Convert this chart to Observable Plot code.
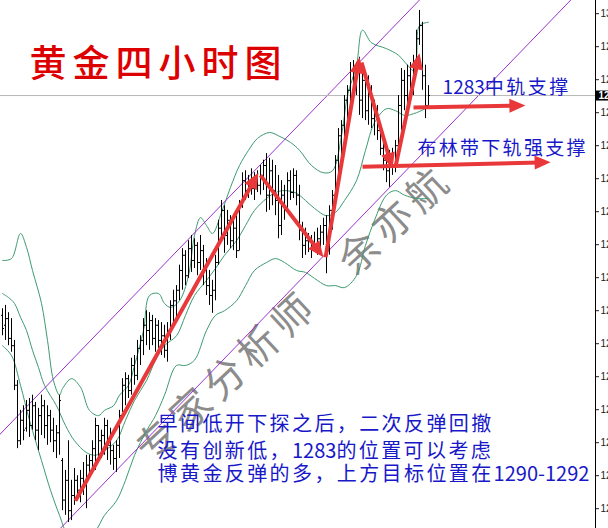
<!DOCTYPE html>
<html><head><meta charset="utf-8">
<script src="https://cdn.jsdelivr.net/npm/d3@7"></script>
<script src="https://cdn.jsdelivr.net/npm/@observablehq/plot@0.6"></script>
<style>
html,body{margin:0;padding:0;background:#fff;overflow:hidden;width:608px;height:528px;}
#chart svg{display:block;overflow:hidden;}
</style></head><body><div id="chart"></div>
<script>
// ---- OHLC data (gold, 4-hour bars) ----
const highs = [1255.3,1255.8,1254.7,1253.8,1250.5,1244.4,1239.9,1240.6,1241.4,1241.7,
1242.2,1241.1,1240.2,1242.2,1241.4,1240.6,1239.9,1238.7,1237.6,1242.2,
1232.6,1230.8,1235.3,1229.3,1231.1,1230.0,1230.8,1232.0,1233.1,1233.1,
1235.3,1238.7,1237.6,1236.9,1238.7,1238.4,1237.2,1234.6,1235.3,1239.9,
1244.7,1245.6,1245.2,1247.8,1248.2,1250.5,1251.2,1253.8,1255.0,1254.7,
1254.3,1253.8,1253.5,1253.2,1252.8,1253.2,1256.5,1258.1,1258.8,1261.9,
1264.4,1264.1,1265.6,1266.4,1265.9,1265.3,1266.4,1264.9,1262.9,1261.1,
1259.6,1263.4,1268.7,1271.7,1270.9,1270.2,1269.4,1268.7,1269.4,1271.7,
1275.9,1276.2,1275.5,1276.5,1275.9,1276.2,1277.0,1277.8,1278.8,1278.1,
1277.8,1277.0,1275.5,1274.7,1274.0,1275.9,1276.2,1276.5,1276.2,1274.0,
1268.4,1267.5,1266.7,1266.4,1266.9,1267.5,1267.9,1269.0,1269.4,1270.9,
1273.2,1278.5,1282.6,1283.8,1287.6,1289.1,1292.6,1292.9,1292.6,1293.4,
1291.7,1291.1,1290.6,1289.1,1286.9,1286.1,1282.6,1280.8,1280.0,1279.3,
1279.6,1280.8,1287.6,1291.7,1291.4,1292.2,1292.6,1293.7,1297.5,1300.5,
1298.7,1292.2,1289.1];
const lows = [1251.2,1250.5,1249.7,1248.7,1242.9,1234.1,1234.6,1235.3,1236.6,1235.8,
1236.9,1235.3,1233.8,1236.1,1235.6,1234.6,1235.0,1233.5,1232.6,1233.1,
1224.7,1224.0,1222.9,1223.2,1225.5,1226.3,1225.9,1227.0,1225.0,1230.0,
1230.5,1230.8,1232.0,1232.6,1233.1,1232.3,1231.6,1230.8,1230.5,1232.6,
1239.6,1240.6,1241.7,1242.2,1243.7,1244.4,1246.7,1248.2,1249.7,1249.0,
1249.7,1248.7,1249.3,1248.2,1247.8,1247.2,1250.5,1252.8,1253.8,1256.5,
1258.1,1258.8,1259.9,1260.8,1261.4,1260.3,1261.1,1258.8,1257.3,1255.8,
1254.6,1256.5,1261.9,1265.6,1263.7,1264.9,1264.4,1264.1,1262.9,1264.1,
1270.5,1271.7,1272.0,1272.5,1271.7,1272.9,1272.5,1273.2,1269.9,1270.2,
1270.9,1269.4,1265.9,1266.4,1268.7,1269.9,1271.7,1272.0,1270.9,1265.6,
1262.9,1263.4,1263.8,1262.9,1264.1,1263.4,1264.4,1264.9,1260.6,1263.4,
1267.2,1270.9,1274.7,1277.8,1280.8,1282.3,1284.6,1286.9,1287.6,1284.6,
1284.1,1283.8,1283.1,1282.6,1281.5,1280.8,1278.5,1276.2,1274.4,1273.7,
1275.5,1275.9,1279.3,1282.3,1285.3,1286.1,1287.2,1287.6,1291.4,1295.2,
1288.4,1284.1,1286.1];
const opens = [1254.3,1252.8,1253.8,1250.8,1249.7,1243.7,1235.3,1238.4,1237.2,1239.9,
1237.6,1240.6,1236.9,1239.1,1240.6,1237.6,1239.1,1236.9,1235.3,1236.5,
1232.3,1226.3,1229.3,1224.7,1227.0,1229.3,1227.8,1229.6,1228.5,1231.6,
1232.3,1234.1,1237.6,1235.3,1236.1,1237.6,1234.6,1233.8,1232.6,1234.6,
1239.1,1243.7,1244.7,1242.9,1246.7,1245.2,1249.3,1250.5,1252.8,1252.0,
1253.5,1250.8,1252.8,1250.5,1251.2,1249.0,1252.0,1255.8,1256.5,1258.1,
1261.1,1263.4,1260.3,1264.4,1262.6,1264.9,1262.3,1264.1,1261.1,1258.8,
1257.3,1258.1,1262.3,1267.5,1270.2,1266.4,1268.7,1265.6,1267.5,1264.1,
1270.9,1274.7,1273.2,1274.4,1273.5,1275.0,1274.0,1275.5,1277.0,1272.5,
1276.2,1273.2,1271.7,1267.9,1272.5,1270.2,1274.7,1272.9,1275.5,1272.5,
1267.2,1264.9,1265.6,1264.4,1265.3,1264.7,1265.9,1266.9,1267.9,1264.1,
1270.2,1272.5,1277.8,1281.5,1283.1,1286.9,1288.4,1291.4,1289.1,1291.7,
1286.9,1289.9,1285.3,1288.7,1284.1,1285.6,1282.3,1279.6,1277.8,1276.2,
1278.1,1277.0,1280.0,1286.1,1289.9,1287.6,1290.6,1289.1,1292.2,1296.2,
1298.2,1290.6,1286.1];
const closes = [1252.3,1253.8,1250.8,1249.7,1243.7,1235.3,1238.4,1236.9,1239.9,1237.6,
1240.6,1236.9,1239.1,1240.6,1237.6,1239.1,1236.9,1235.3,1236.5,1241.4,
1226.3,1229.3,1224.7,1227.0,1229.3,1227.8,1229.6,1228.5,1231.6,1232.3,
1234.1,1237.6,1235.3,1236.1,1237.6,1234.6,1233.8,1232.6,1234.6,1239.1,
1243.7,1244.7,1242.9,1246.7,1245.2,1249.3,1250.5,1252.8,1252.0,1253.5,
1250.8,1252.8,1250.5,1251.2,1249.0,1252.0,1255.8,1256.5,1258.1,1261.1,
1263.4,1260.3,1264.4,1262.6,1264.9,1262.3,1264.1,1261.1,1258.8,1257.3,
1258.1,1262.3,1267.5,1270.2,1266.4,1268.7,1265.6,1267.5,1264.1,1270.9,
1274.7,1273.2,1274.4,1273.5,1275.0,1274.0,1275.5,1277.0,1272.5,1276.2,
1273.2,1271.7,1267.9,1272.5,1270.2,1274.7,1272.9,1275.5,1272.5,1267.2,
1264.9,1265.6,1264.4,1265.3,1264.7,1265.9,1266.9,1267.9,1264.1,1270.2,
1272.5,1277.8,1281.5,1283.1,1286.9,1288.4,1291.4,1289.1,1291.7,1286.9,
1289.9,1285.3,1288.7,1284.1,1285.6,1282.3,1279.6,1277.8,1276.2,1278.1,
1277.0,1280.0,1286.1,1289.9,1287.6,1290.6,1289.1,1292.2,1296.2,1298.2,
1290.6,1286.1,1287.6];

// ---- Bollinger band lines: [bar index, price] ----
const upperBand = [[0,1262.6],[3,1262.9],[6,1266.7],[8,1264.6],[10,1261.1],[13,1256.1],[15,1250.5],[17,1244.4],[19,1242.2],[20,1243.2],[23,1244.7],[26,1243.4],[29,1239.9],[32,1239.1],[34,1239.9],[37,1240.6],[39,1242.2],[42,1243.7],[44,1246.7],[47,1252.0],[49,1257.3],[52,1257.6],[54,1256.1],[56,1255.5],[59,1256.5],[62,1260.3],[64,1266.4],[66,1269.1],[68,1267.9],[70,1266.7],[73,1269.9],[76,1273.7],[79,1277.0],[82,1279.3],[85,1281.1],[89,1282.0],[92,1281.5],[96,1280.5],[99,1279.3],[103,1277.0],[107,1275.9],[110,1276.2],[113,1281.5],[115,1287.6],[118,1292.2],[120,1297.5],[123,1295.6],[128,1294.7],[132,1293.7],[135,1292.2],[137,1291.4],[138,1293.4],[139,1298.2],[142,1298.7]];
const middleBand = [[0,1257.6],[2,1257.0],[4,1256.1],[6,1254.0],[8,1252.0],[10,1249.0],[12,1246.4],[14,1243.7],[18,1240.6],[21,1237.6],[24,1235.3],[28,1233.5],[31,1233.1],[34,1233.8],[38,1235.3],[41,1238.4],[44,1241.4],[48,1244.4],[51,1247.5],[54,1249.7],[58,1251.2],[61,1254.3],[64,1257.3],[68,1259.6],[71,1261.4],[74,1263.4],[78,1265.6],[81,1267.9],[84,1270.2],[88,1272.0],[91,1272.9],[94,1273.2],[98,1272.8],[101,1271.7],[104,1270.5],[108,1269.4],[111,1269.9],[114,1271.7],[118,1274.7],[121,1279.3],[124,1283.5],[128,1285.6],[131,1285.3],[134,1284.6],[138,1285.0],[142,1285.9]];
const lowerBand = [[0,1249.7],[3,1248.2],[6,1243.7],[9,1238.4],[13,1232.3],[16,1227.8],[19,1224.0],[22,1220.9],[26,1220.2],[31,1221.7],[34,1224.0],[38,1226.2],[41,1229.3],[44,1233.1],[48,1236.8],[51,1239.1],[54,1242.2],[58,1246.7],[61,1246.7],[64,1247.5],[68,1252.0],[71,1254.3],[74,1255.0],[78,1256.5],[81,1258.8],[84,1261.1],[88,1262.3],[91,1262.9],[94,1262.3],[98,1261.1],[101,1260.8],[104,1259.9],[108,1258.8],[111,1258.8],[114,1258.5],[118,1260.3],[121,1264.9],[124,1268.7],[128,1272.5],[131,1273.2],[134,1272.5],[138,1272.0],[142,1272.0]];

// ---- channel lines (two parallel trend lines) ----
const channelUpper = [[-1,1236.2],[145,1304.9]];
const channelLower = [[15,1220.0],[195,1304.7]];

// ---- red annotation arrows: start [bar, price] -> tip [bar, price] ----
const arrowStarts = [[24.3,1226.2],[86,1275.5],[107.7,1263.1],[119.7,1292.6],[131,1276.8],[137,1285.8],[120,1276.8]];
const arrowTips   = [[85.3,1275.9],[107,1263.1],[119,1293.4],[130,1276.5],[139,1294.0],[174.3,1286.1],[182.7,1277.5]];

// ---- axis ticks ----
const yTicks = [1225,1230,1235,1240,1245,1250,1255,1260,1265,1270,1275,1280,1285,1290,1295,1300];

// ---- texts ----
const titleText = "黄金四小时图";
const noteMid = "1283中轨支撑";
const noteLow = "布林带下轨强支撑";
const commentLines = ["早间低开下探之后，二次反弹回撤", "没有创新低，1283的位置可以考虑", "博黄金反弹的多，上方目标位置在1290-1292"];
const watermark = "专家分析师　余亦航";
// anchor points of the texts, [bar, price]
const titleAt = [9.0, 1292.2];
const noteMidAt = [146.7, 1288.7];
const noteLowAt = [138.3, 1279.5];
const commentAt = [[51.7, 1237.8], [51.7, 1233.6], [51.7, 1230.2]];
const watermarkAt = [97.5, 1254.4];

// ---------------------------------------------------------------
const xDomain = [-2/3, 197 + 2/3];
const yDomain = [1222, 1302];
const red = "#e8383a", green = "#3d9a70", purple = "#9b30d0", blue = "#1818c8";
const cjk = "'Noto Sans CJK SC', sans-serif";

const base = {
  width: 608, height: 528,
  marginTop: 0, marginRight: 13, marginBottom: 0, marginLeft: 0,
  x: {type: "linear", domain: xDomain, axis: null},
  y: {type: "linear", domain: yDomain}
};

const bars = highs.map((h, i) => ({i, h, l: lows[i], o: opens[i], c: closes[i]}));
const lastClose = closes[closes.length - 1];
const toPts = (arr) => arr.map(([i, p]) => ({i, p}));

// probe scales to orient the arrow heads
const probe = Plot.plot({...base, y: {...base.y, axis: null}, marks: [Plot.ruleX([0])]});
const sx = probe.scale("x"), sy = probe.scale("y");
const arrows = arrowStarts.map(([i1, p1], k) => {
  const [i2, p2] = arrowTips[k];
  const X1 = sx.apply(i1), Y1 = sy.apply(p1), X2 = sx.apply(i2), Y2 = sy.apply(p2);
  const len = Math.hypot(X2 - X1, Y2 - Y1);
  const ux = (X2 - X1) / len, uy = (Y2 - Y1) / len;
  return {
    i1, p1, i2, p2,
    ie: sx.invert(X2 - ux * 10), pe: sy.invert(Y2 - uy * 10),
    angle: Math.atan2(X2 - X1, -(Y2 - Y1)) * 180 / Math.PI
  };
});

const openTick = {draw(ctx) { ctx.moveTo(-1.5, 0); ctx.lineTo(0, 0); }};
const closeTick = {draw(ctx) { ctx.moveTo(0, 0); ctx.lineTo(1.5, 0); }};
const headSym = {draw(ctx) { ctx.moveTo(0, 0); ctx.lineTo(7, 16); ctx.lineTo(-7, 16); ctx.closePath(); }};
const boxSym = {draw(ctx) { ctx.rect(0, -5, 16, 10); }};

const chart = Plot.plot({
  ...base,
  style: {background: "#fff", color: "#222", fontFamily: cjk},
  marks: [
    Plot.text([watermarkAt], {x: d => d[0], y: d => d[1], text: () => watermark, rotate: -43,
      fontSize: 40, fontFamily: cjk, fill: "#8c8c8c", textAnchor: "middle", lineAnchor: "middle"}),
    Plot.line(toPts(upperBand), {x: "i", y: "p", stroke: green, strokeWidth: 1, curve: "catmull-rom"}),
    Plot.line(toPts(middleBand), {x: "i", y: "p", stroke: green, strokeWidth: 1, curve: "catmull-rom"}),
    Plot.line(toPts(lowerBand), {x: "i", y: "p", stroke: green, strokeWidth: 1, curve: "catmull-rom"}),
    Plot.line(toPts(channelUpper), {x: "i", y: "p", stroke: purple, strokeWidth: 1, clip: true}),
    Plot.line(toPts(channelLower), {x: "i", y: "p", stroke: purple, strokeWidth: 1, clip: true}),
    Plot.ruleY([lastClose], {stroke: "#b8b8b8", strokeWidth: 1}),
    Plot.ruleX(bars, {x: "i", y1: "l", y2: "h", stroke: "#000", strokeWidth: 1}),
    Plot.dot(bars, {x: "i", y: "o", symbol: openTick, stroke: "#000", fill: "none", strokeWidth: 1}),
    Plot.dot(bars, {x: "i", y: "c", symbol: closeTick, stroke: "#000", fill: "none", strokeWidth: 1}),
    Plot.link(arrows, {x1: "i1", y1: "p1", x2: "ie", y2: "pe", stroke: red, strokeWidth: 4}),
    Plot.dot(arrows, {x: "i2", y: "p2", symbol: headSym, rotate: "angle", fill: red, stroke: "none"}),
    Plot.text([titleAt], {x: d => d[0], y: d => d[1], text: () => titleText, fontSize: 37, fontWeight: 500,
      fontFamily: cjk, fill: "#dd0000", textAnchor: "start", lineAnchor: "middle"}),
    Plot.text([noteMidAt], {x: d => d[0], y: d => d[1], text: () => noteMid, fontSize: 19,
      fontFamily: cjk, fill: blue, textAnchor: "start", lineAnchor: "middle"}),
    Plot.text([noteLowAt], {x: d => d[0], y: d => d[1], text: () => noteLow, fontSize: 19,
      fontFamily: cjk, fill: blue, textAnchor: "start", lineAnchor: "middle"}),
    Plot.text(commentAt, {x: d => d[0], y: d => d[1], text: (d, k) => commentLines[k], fontSize: 20,
      fontFamily: cjk, fill: blue, textAnchor: "start", lineAnchor: "middle"}),
    Plot.ruleX([xDomain[1]], {stroke: "#000", strokeWidth: 1}),
    Plot.axisY(yTicks, {anchor: "right", tickSize: 3, tickPadding: 2, fontSize: 10,
      fontFamily: "'Liberation Sans', sans-serif", tickFormat: d => d.toFixed(2), label: null}),
    Plot.dot([[xDomain[1], lastClose]], {x: d => d[0], y: d => d[1], symbol: boxSym, fill: "#000", stroke: "none"}),
    Plot.text([[xDomain[1], lastClose]], {x: d => d[0], y: d => d[1], text: d => d[1].toFixed(2), fill: "#fff",
      fontSize: 10, fontWeight: "bold", fontFamily: "'Liberation Sans', sans-serif", textAnchor: "start", dx: 3, lineAnchor: "middle"})
  ]
});

// letter spacing for the annotation texts (matched by content); digit runs keep normal spacing
const spacingFor = new Map([[titleText, 6], [noteMid, 2.5], [noteLow, 2.3], [watermark, 6],
  ...commentLines.map(s => [s, 2.4])]);
const NS = "http://www.w3.org/2000/svg";
chart.querySelectorAll("text").forEach(t => {
  const s = t.textContent;
  const v = spacingFor.get(s);
  if (v == null) return;
  t.setAttribute("letter-spacing", v + "px");
  const runs = s.match(/[0-9\-]+|[^0-9\-]+/g);
  if (runs.length > 1) {
    while (t.firstChild) t.removeChild(t.firstChild);
    for (const r of runs) {
      const sp = document.createElementNS(NS, "tspan");
      sp.textContent = r;
      if (/^[0-9\-]+$/.test(r)) sp.setAttribute("letter-spacing", "0px");
      t.appendChild(sp);
    }
  }
});
document.getElementById("chart").appendChild(chart);
</script>
</body></html>
